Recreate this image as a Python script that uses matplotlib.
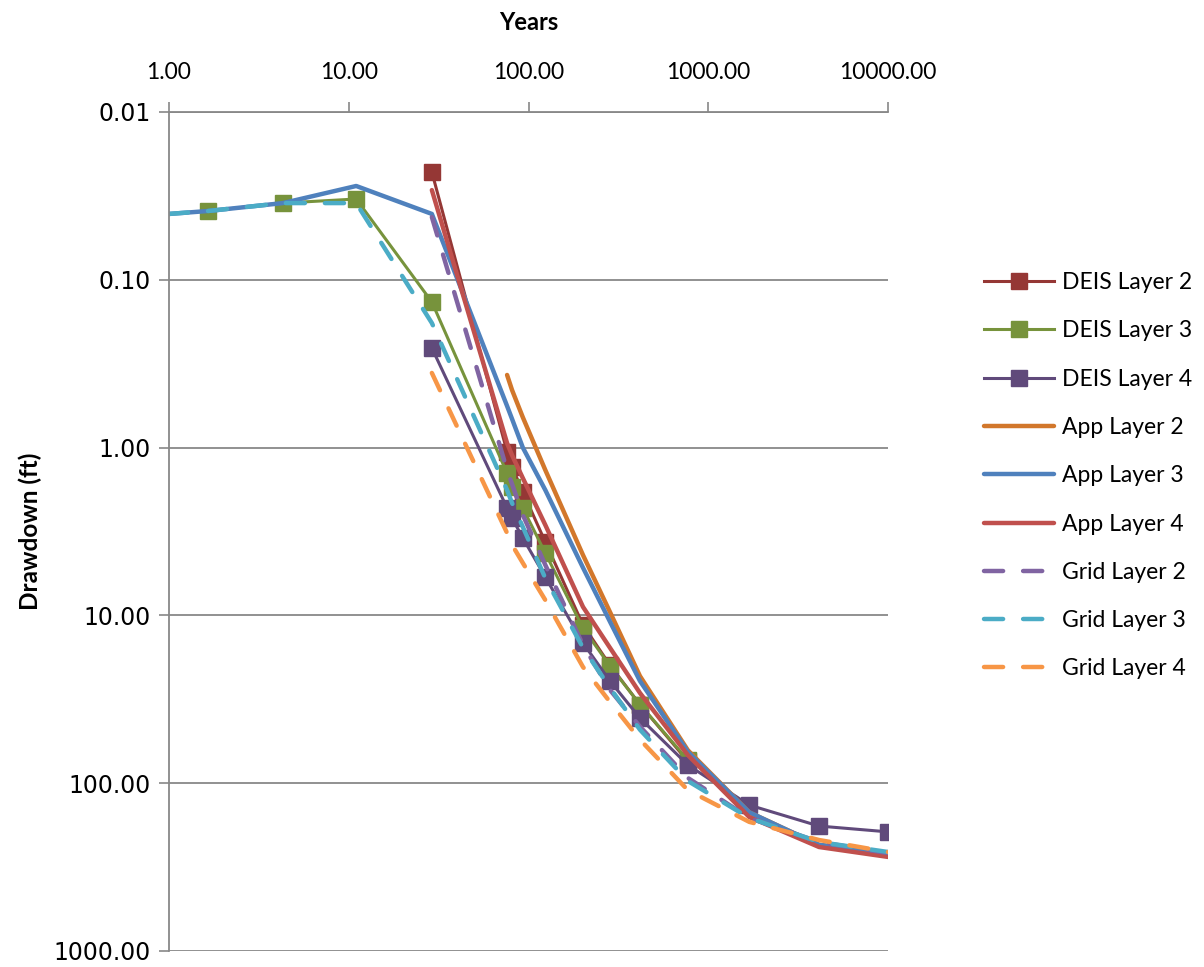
import matplotlib
matplotlib.use("Agg")
import matplotlib.pyplot as plt
from matplotlib.ticker import FixedLocator, FuncFormatter, NullLocator

plt.rcParams['font.family'] = ['Lato', 'DejaVu Sans']

# ---- data (years, drawdown ft) ----
deis2_t = [29, 76, 81, 93, 124, 201, 284, 417, 770]
deis2_v = [0.0228, 1.06, 1.30, 1.84, 3.65, 11.4, 19.8, 34, 74]

deis3_t = [1.65, 4.3, 11, 29, 76, 81, 93, 124, 201, 284, 417, 770]
deis3_v = [0.0389, 0.0349, 0.033, 0.1356, 1.42, 1.72, 2.29, 4.25, 11.9, 20, 34, 72.7]

deis4_t = [29, 76, 81, 93, 124, 201, 284, 417, 770, 1690, 4130, 10000]
deis4_v = [0.255, 2.29, 2.63, 3.46, 5.9, 14.6, 24.6, 40.9, 77.9, 135, 180, 195]

app2_t = [76, 81, 93, 124, 201, 284, 417, 770, 1690, 4130, 10000]
app2_v = [0.369, 0.454, 0.66, 1.36, 4.37, 9.55, 23, 63.6, 149, 233, 261]

app3_t = [1, 1.65, 4.3, 11, 29, 76, 81, 93, 124, 201, 284, 417, 770, 1690, 4130, 10000]
app3_v = [0.0405, 0.0389, 0.0349, 0.0276, 0.0405, 0.565, 0.675, 1.0, 1.79, 5.2, 10.9, 24.6, 65, 149, 233, 261]

app4_t = [29, 76, 81, 93, 124, 201, 284, 417, 770, 1690, 4130, 10000]
app4_v = [0.0292, 0.94, 1.11, 1.52, 2.89, 8.9, 15.6, 29, 68, 159, 240, 275]

grid2_t = [29, 76, 81, 93, 124, 201, 284, 417, 770, 1690, 4130, 10000]
grid2_v = [0.0423, 1.36, 1.65, 2.52, 5.0, 15, 27.8, 46, 93, 161, 224, 261]

grid3_t = [1, 1.65, 4.3, 11, 29, 76, 81, 93, 124, 201, 284, 417, 770, 1690, 4130, 10000]
grid3_v = [0.0405, 0.0389, 0.0349, 0.0349, 0.181, 1.79, 2.14, 2.97, 6.0, 15.6, 27, 48, 97, 161, 224, 257]

grid4_t = [29, 76, 81, 93, 124, 201, 284, 417, 770, 1690, 4130, 10000]
grid4_v = [0.359, 3.23, 3.8, 4.87, 8.1, 20.3, 32.8, 55, 110, 170, 218, 257]

x_ticks = [1, 10, 100, 1000, 10000]
y_ticks = [0.01, 0.1, 1, 10, 100, 1000]

fig = plt.figure(figsize=(12.04, 9.67), dpi=100)
ax = fig.add_axes([169/1204, 1-951/967, (888-169)/1204, (951-112)/967])

mk = dict(marker='s', markersize=11)
lw_d = 2.2
lw_a = 3.2
dash = dict(linestyle=(0, (4.3, 4.5)), dash_capstyle='round')

ax.plot(deis2_t, deis2_v, color='#953735', lw=lw_d, label='DEIS Layer 2', **mk)
ax.plot(deis3_t, deis3_v, color='#77933C', lw=lw_d, label='DEIS Layer 3', **mk)
ax.plot(deis4_t, deis4_v, color='#604A7B', lw=lw_d, label='DEIS Layer 4', **mk)
ax.plot(app2_t, app2_v, color='#D2772B', lw=lw_a, solid_capstyle='round', label='App Layer 2')
ax.plot(app3_t, app3_v, color='#4F81BD', lw=lw_a, solid_capstyle='round', label='App Layer 3')
ax.plot(app4_t, app4_v, color='#C0504D', lw=lw_a, solid_capstyle='round', label='App Layer 4')
ax.plot(grid2_t, grid2_v, color='#8064A2', lw=lw_a, label='Grid Layer 2', **dash)
ax.plot(grid3_t, grid3_v, color='#4BACC6', lw=lw_a, label='Grid Layer 3', **dash)
ax.plot(grid4_t, grid4_v, color='#F79646', lw=lw_a, label='Grid Layer 4', **dash)

ax.set_xscale('log')
ax.set_yscale('log')
ax.set_xlim(1, 10000)
ax.set_ylim(1000, 0.01)

ax.xaxis.set_major_locator(FixedLocator(x_ticks))
ax.xaxis.set_minor_locator(NullLocator())
ax.yaxis.set_major_locator(FixedLocator(y_ticks))
ax.yaxis.set_minor_locator(NullLocator())
fmt = FuncFormatter(lambda v, p: f"{v:.2f}")
ax.xaxis.set_major_formatter(fmt)
ax.yaxis.set_major_formatter(fmt)

ax.xaxis.tick_top()
ax.xaxis.set_label_position('top')
ax.tick_params(axis='x', direction='out', length=7, width=1.2, color='#888888',
               labelsize=16.5, pad=14)
ax.tick_params(axis='y', direction='out', length=7, width=1.2, color='#888888',
               labelsize=17, pad=6)
for t in ax.get_yticklabels():
    t.set_fontfamily('DejaVu Sans')

for s in ['right', 'bottom']:
    ax.spines[s].set_visible(False)
for s in ['left', 'top']:
    ax.spines[s].set_color('#888888')
    ax.spines[s].set_linewidth(1.3)

ax.grid(True, axis='y', color='#888888', lw=1.3)
ax.set_axisbelow(True)

ax.set_xlabel('Years', fontsize=17, fontweight='bold')
ax.set_ylabel('Drawdown (ft)', fontsize=17.5, fontweight='bold')
ax.xaxis.set_label_coords(0.5, 1 + (112 - 22) / 839, transform=ax.transAxes)
ax.yaxis.set_label_coords((30 - 169) / 719, 0.5, transform=ax.transAxes)
ax.xaxis.label.set_va('center')
ax.yaxis.label.set_va('center')

fig.legend(loc='center left', bbox_to_anchor=(0.800, 0.508), frameon=False,
           fontsize=16.5, labelspacing=1.19, handlelength=3.05, handletextpad=0.35)

fig.savefig('out.png', dpi=100)
